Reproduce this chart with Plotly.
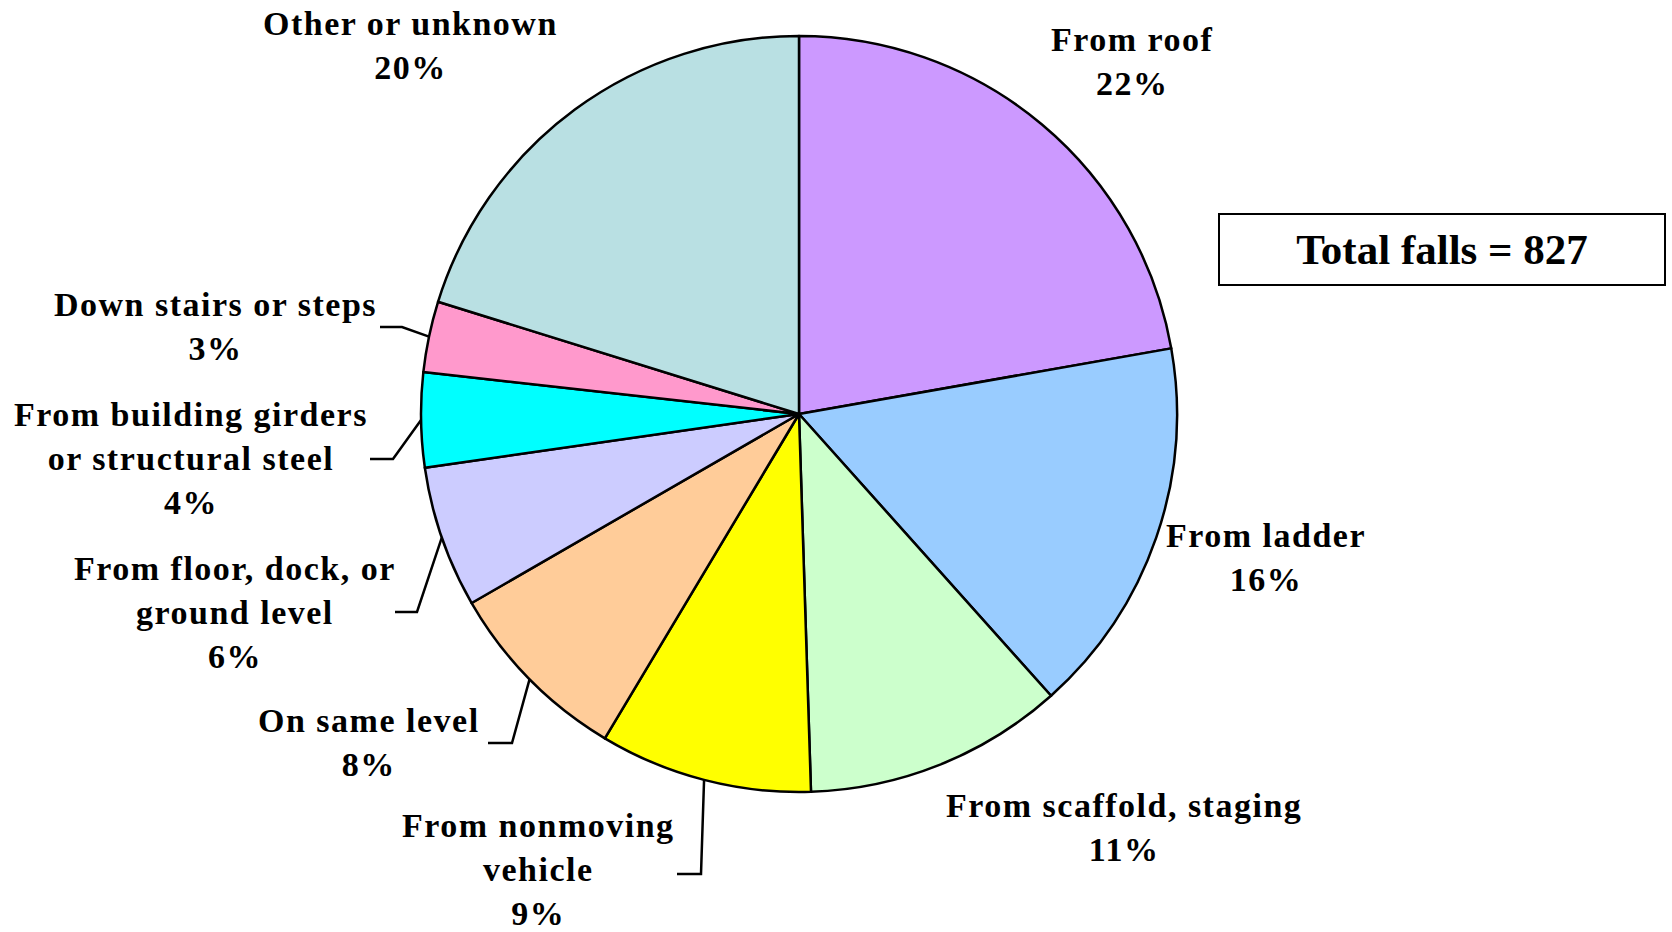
import math
import plotly.graph_objects as go

W, H = 1672, 932

categories = [
    "From roof",
    "From ladder",
    "From scaffold, staging",
    "From nonmoving vehicle",
    "On same level",
    "From floor, dock, or ground level",
    "From building girders or structural steel",
    "Down stairs or steps",
    "Other or unknown",
]
percents = [22, 16, 11, 9, 8, 6, 4, 3, 20]
slice_colors = ["#CC99FF", "#99CCFF", "#CCFFCC", "#FFFF00", "#FFCC99",
                "#CCCCFF", "#00FFFF", "#FF99CC", "#B9E0E3"]
label_lines = [
    ["From roof"],
    ["From ladder"],
    ["From scaffold, staging"],
    ["From nonmoving", "vehicle"],
    ["On same level"],
    ["From floor, dock, or", "ground level"],
    ["From building girders", "or structural steel"],
    ["Down stairs or steps"],
    ["Other or unknown"],
]
total_falls = 827

# pie geometry in pixels
cx, cy, r = 799, 414, 378

# label centres (px) and leader elbows (px) -- layout only
label_pos = [(1132, 61), (1266, 557), (1124, 827), (538, 869), (369, 742),
             (235, 612), (191, 458), (215, 326), (410, 45)]
leaders = {3: (701, 677, 874), 4: (512, 488, 743), 5: (417, 395, 612),
           6: (393, 370, 459), 7: (402, 380, 327)}

FONT = dict(family="Liberation Serif", size=34, color="black", weight="bold")

fig = go.Figure()
fig.add_trace(go.Pie(
    labels=categories,
    values=percents,
    sort=False,
    direction="clockwise",
    rotation=0,
    marker=dict(colors=slice_colors, line=dict(color="black", width=2.5)),
    textinfo="none",
    hoverinfo="label+percent",
    domain=dict(x=[(cx - r) / W, (cx + r) / W],
                y=[1 - (cy + r) / H, 1 - (cy - r) / H]),
    showlegend=False,
))

total = sum(percents)
cum = 0
for i, v in enumerate(percents):
    mid = (cum + v / 2) / total * 2 * math.pi
    cum += v
    if i in leaders:
        ex, hx, hy = leaders[i]
        px = cx + r * math.sin(mid)
        py = cy - r * math.cos(mid)
        fig.add_trace(go.Scatter(
            x=[px, ex, hx], y=[py, hy, hy], mode="lines",
            line=dict(color="black", width=2.5),
            hoverinfo="skip", showlegend=False,
        ))
    lines = label_lines[i] + [f"{v}%"]
    text = "<br>".join(f'<span style="letter-spacing:1.5px">{ln}</span>' for ln in lines)
    fig.add_annotation(
        x=label_pos[i][0], y=label_pos[i][1], xref="x", yref="y",
        text=text, showarrow=False, align="center",
        xanchor="center", yanchor="middle", font=FONT,
    )

fig.add_annotation(
    x=1442, y=249.5, xref="x", yref="y",
    text=f"Total falls = {total_falls}", showarrow=False,
    width=444, height=69, borderpad=0,
    bordercolor="black", borderwidth=2, bgcolor="white",
    font=dict(family="Liberation Serif", size=43, color="black", weight="bold"),
)

fig.update_layout(
    width=W, height=H,
    margin=dict(l=0, r=0, t=0, b=0),
    paper_bgcolor="white", plot_bgcolor="white",
    xaxis=dict(range=[0, W], visible=False, showgrid=False, zeroline=False),
    yaxis=dict(range=[H, 0], visible=False, showgrid=False, zeroline=False),
)

fig.write_html("out.html", config={"displayModeBar": False},
               post_script="document.body.style.margin='0';")
